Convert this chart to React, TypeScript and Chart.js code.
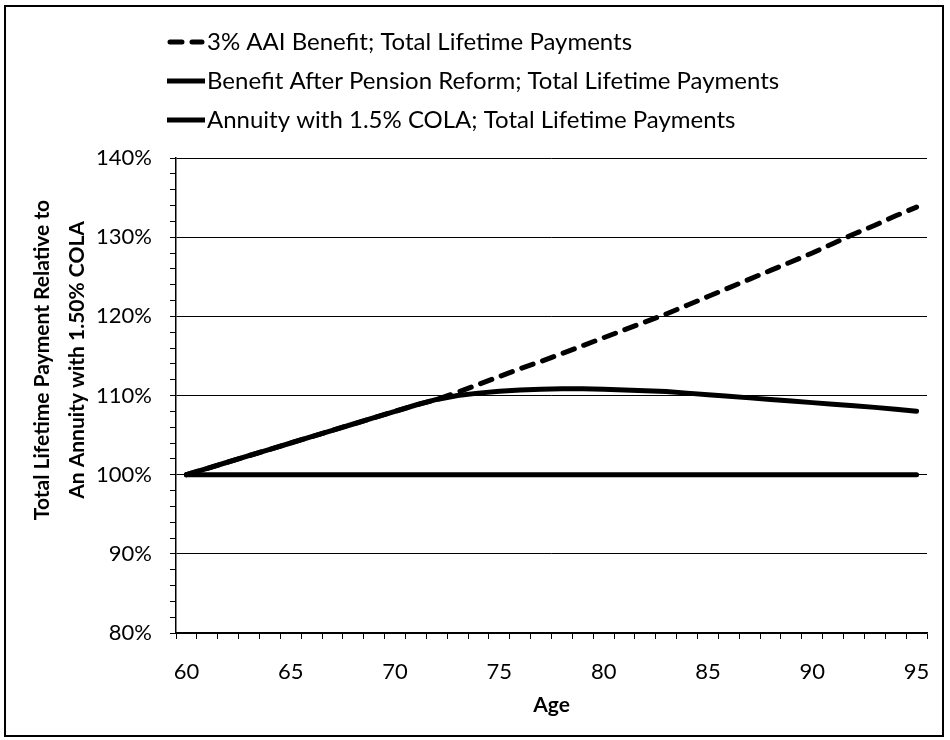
import React, { useEffect, useRef } from "react";
import { Chart, registerables } from "chart.js";

Chart.register(...registerables);

// Age at retirement through 95
const ages = [
  60, 61, 62, 63, 64, 65, 66, 67, 68, 69, 70, 71,
  72, 73, 74, 75, 76, 77, 78, 79, 80, 81, 82, 83,
  84, 85, 86, 87, 88, 89, 90, 91, 92, 93, 94, 95,
];

// Total lifetime payments, % of a 1.5% COLA annuity
const aaiBenefit = [
  100.0, 100.8, 101.6, 102.4, 103.2, 104.0, 104.8, 105.6, 106.4, 107.2, 108.0, 108.8,
  109.5, 110.4, 111.4, 112.4, 113.4, 114.3, 115.3, 116.3, 117.3, 118.3, 119.3, 120.3,
  121.4, 122.5, 123.6, 124.7, 125.8, 126.9, 128.0, 129.2, 130.4, 131.5, 132.7, 133.8,
];

const reformBenefit = [
  100.0, 100.8, 101.6, 102.4, 103.2, 104.0, 104.8, 105.6, 106.4, 107.2, 108.0, 108.8,
  109.5, 110.0, 110.3, 110.55, 110.7, 110.8, 110.85, 110.85, 110.8, 110.7, 110.6, 110.5,
  110.3, 110.1, 109.9, 109.7, 109.5, 109.3, 109.1, 108.9, 108.7, 108.5, 108.25, 108.0,
];

const colaAnnuity = [
  100, 100, 100, 100, 100, 100, 100, 100, 100, 100, 100, 100,
  100, 100, 100, 100, 100, 100, 100, 100, 100, 100, 100, 100,
  100, 100, 100, 100, 100, 100, 100, 100, 100, 100, 100, 100,
];

const seriesNames = [
  "3% AAI Benefit; Total Lifetime Payments",
  "Benefit After Pension Reform; Total Lifetime Payments",
  "Annuity with 1.5% COLA; Total Lifetime Payments",
];

const yTitle = ["Total Lifetime Payment Relative to", "An Annuity with 1.50% COLA"];
const xTitle = "Age";

const FONT = "Lato";
const TICK_SIZE = 22;
const TITLE_SIZE = 21;
const LEGEND_SIZE = 24;

// Stacked legend rows drawn above the plot area
const stackedLegend = {
  id: "stackedLegend",
  afterDraw(chart: any) {
    const { ctx } = chart;
    const x0 = 167;
    const sampleW = 38;
    const rows = [42, 81, 120];
    ctx.save();
    chart.data.datasets.forEach((ds: any, i: number) => {
      const y = rows[i];
      const dashed = ds.borderDash && ds.borderDash.length;
      ctx.beginPath();
      ctx.strokeStyle = ds.borderColor;
      ctx.lineWidth = ds.borderWidth;
      ctx.lineCap = dashed ? "round" : "butt";
      ctx.setLineDash(ds.borderDash || []);
      ctx.moveTo(x0 + (dashed ? 3 : 0), y);
      ctx.lineTo(x0 + sampleW - (dashed ? 3 : 0), y);
      ctx.stroke();
      ctx.setLineDash([]);
      ctx.fillStyle = "#000";
      ctx.font = `${LEGEND_SIZE}px ${FONT}`;
      ctx.textAlign = "left";
      ctx.textBaseline = "middle";
      ctx.fillText(ds.label, x0 + sampleW + 2, y);
    });
    ctx.restore();
  },
};

// Two-line rotated title for the value axis, set a little above the axis middle
const valueAxisTitle = {
  id: "valueAxisTitle",
  afterDraw(chart: any) {
    const { ctx } = chart;
    const centerY = 360;
    const lineXs = [42, 77];
    ctx.save();
    ctx.fillStyle = "#000";
    ctx.font = `bold ${TITLE_SIZE}px ${FONT}`;
    ctx.textAlign = "center";
    ctx.textBaseline = "middle";
    yTitle.forEach((line, i) => {
      ctx.save();
      ctx.translate(lineXs[i], centerY);
      ctx.rotate(-Math.PI / 2);
      ctx.fillText(line, 0, 0);
      ctx.restore();
    });
    ctx.restore();
  },
};

export default function App() {
  const canvasRef = useRef<HTMLCanvasElement | null>(null);

  useEffect(() => {
    const canvas = canvasRef.current;
    if (!canvas) return;

    const lineStyle = {
      borderColor: "#000",
      borderWidth: 5,
      borderCapStyle: "round" as const,
      borderJoinStyle: "round" as const,
      pointRadius: 0,
      fill: false,
      tension: 0,
    };

    const chart = new Chart(canvas, {
      type: "line",
      data: {
        labels: ages.map(String),
        datasets: [
          { ...lineStyle, label: seriesNames[0], data: aaiBenefit, borderDash: [12, 10] },
          { ...lineStyle, label: seriesNames[1], data: reformBenefit },
          { ...lineStyle, label: seriesNames[2], data: colaAnnuity },
        ],
      },
      options: {
        animation: false,
        responsive: false,
        maintainAspectRatio: false,
        layout: { padding: { left: 0, top: 158, right: 23, bottom: 0 } },
        plugins: {
          legend: { display: false },
          tooltip: { enabled: false },
        },
        scales: {
          x: {
            type: "category",
            offset: true,
            afterFit: (scale: any) => {
              scale.height = 107;
            },
            border: { display: true, color: "#000", width: 1.5 },
            grid: {
              offset: true,
              drawOnChartArea: false,
              drawTicks: true,
              tickLength: 6,
              color: "#000",
              lineWidth: 1,
            },
            ticks: {
              autoSkip: false,
              maxRotation: 0,
              minRotation: 0,
              padding: 20,
              color: "#000",
              font: { family: FONT, size: TICK_SIZE },
              callback: (_v: any, i: number) => (i % 5 === 0 ? String(ages[i]) : ""),
            },
            title: {
              display: true,
              text: xTitle,
              color: "#000",
              font: { family: FONT, size: TITLE_SIZE, weight: "bold", lineHeight: 1.2 },
              padding: { top: 0, bottom: 22 },
            },
          },
          y: {
            min: 80,
            max: 140,
            afterFit: (scale: any) => {
              scale.width = 176;
            },
            border: { display: true, color: "#000", width: 1.5 },
            grid: {
              drawTicks: true,
              tickLength: 6,
              lineWidth: 1,
              color: (c: any) =>
                c.tick && Math.round(c.tick.value) % 10 === 0 ? "#000" : "rgba(0,0,0,0)",
              tickColor: "#000",
            },
            ticks: {
              stepSize: 2,
              autoSkip: false,
              padding: 18,
              color: "#000",
              font: { family: FONT, size: TICK_SIZE },
              callback: (v: any) => (Math.round(v) % 10 === 0 ? `${Math.round(v)}%` : ""),
            },
            title: { display: false },
          },
        },
      },
      plugins: [stackedLegend, valueAxisTitle],
    });

    let cancelled = false;
    const fonts = (document as any).fonts;
    if (fonts && fonts.load) {
      Promise.all([
        fonts.load(`${TICK_SIZE}px ${FONT}`),
        fonts.load(`bold ${TITLE_SIZE}px ${FONT}`),
      ]).then(() => {
        if (!cancelled) chart.update();
      });
    }

    return () => {
      cancelled = true;
      chart.destroy();
    };
  }, []);

  return (
    <div style={{ position: "fixed", left: 0, top: 0, width: 950, height: 740, background: "#fff" }}>
      <canvas
        ref={canvasRef}
        width={950}
        height={740}
        style={{ position: "absolute", left: 0, top: 0, width: 950, height: 740 }}
      />
      <div
        style={{
          position: "absolute",
          left: 4,
          top: 5,
          width: 940,
          height: 732,
          boxSizing: "border-box",
          border: "2px solid #000",
          pointerEvents: "none",
        }}
      />
    </div>
  );
}
